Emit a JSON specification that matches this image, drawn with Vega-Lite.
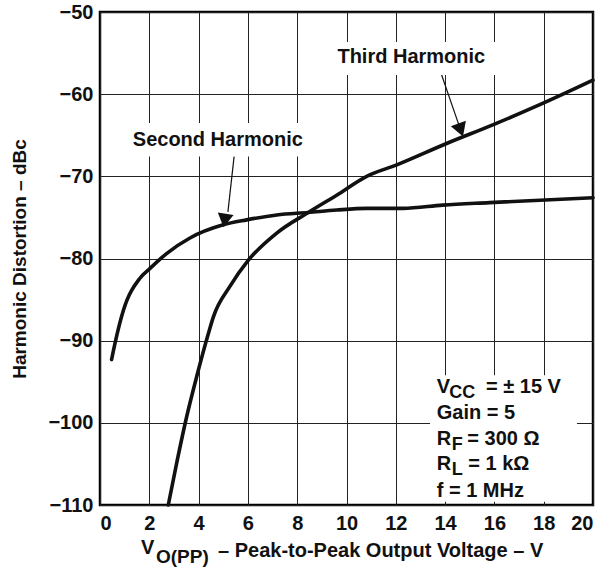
{
  "$schema": "https://vega.github.io/schema/vega-lite/v6.json",
  "width": 493,
  "height": 493,
  "autosize": {"type": "none"},
  "padding": {"left": 100, "top": 12, "right": 11, "bottom": 66},
  "background": "white",
  "config": {
    "view": {"stroke": "black", "strokeWidth": 2.5},
    "font": "Liberation Sans",
    "text": {"font": "Liberation Sans", "fontWeight": "bold", "color": "#111"},
    "axis": {
      "labelFont": "Liberation Sans", "labelFontWeight": "bold", "labelFontSize": 20, "labelColor": "#111",
      "titleFont": "Liberation Sans", "titleFontWeight": "bold", "titleFontSize": 19, "titleColor": "#111",
      "ticks": false, "domain": false, "grid": true, "gridColor": "#222", "gridWidth": 1, "gridOpacity": 1
    }
  },
  "datasets": {
    "curves": [
      {"s": "second", "x": 0.47, "y": -92.3},
      {"s": "second", "x": 0.61, "y": -90.3},
      {"s": "second", "x": 0.95, "y": -86.3},
      {"s": "second", "x": 1.62, "y": -82.4},
      {"s": "second", "x": 2.03, "y": -81.2},
      {"s": "second", "x": 2.7, "y": -79.4},
      {"s": "second", "x": 3.65, "y": -77.5},
      {"s": "second", "x": 5.0, "y": -75.9},
      {"s": "second", "x": 5.95, "y": -75.3},
      {"s": "second", "x": 7.17, "y": -74.7},
      {"s": "second", "x": 8.45, "y": -74.4},
      {"s": "second", "x": 9.6, "y": -74.1},
      {"s": "second", "x": 10.8, "y": -73.9},
      {"s": "second", "x": 12.3, "y": -73.9},
      {"s": "second", "x": 13.9, "y": -73.5},
      {"s": "second", "x": 15.8, "y": -73.2},
      {"s": "second", "x": 20.0, "y": -72.6},
      {"s": "third", "x": 2.77, "y": -110.0},
      {"s": "third", "x": 3.11, "y": -104.9},
      {"s": "third", "x": 3.52, "y": -99.2},
      {"s": "third", "x": 3.92, "y": -94.4},
      {"s": "third", "x": 4.4, "y": -89.1},
      {"s": "third", "x": 4.6, "y": -87.1},
      {"s": "third", "x": 5.27, "y": -83.4},
      {"s": "third", "x": 6.02, "y": -80.2},
      {"s": "third", "x": 7.17, "y": -76.9},
      {"s": "third", "x": 8.45, "y": -74.4},
      {"s": "third", "x": 9.6, "y": -72.3},
      {"s": "third", "x": 10.82, "y": -70.0},
      {"s": "third", "x": 12.04, "y": -68.6},
      {"s": "third", "x": 14.06, "y": -66.0},
      {"s": "third", "x": 15.96, "y": -63.7},
      {"s": "third", "x": 17.98, "y": -61.1},
      {"s": "third", "x": 20.0, "y": -58.3}
    ],
    "boxes": [
      {"x": 1.1, "x2": 8.4, "y": -63.5, "y2": -67.6},
      {"x": 9.45, "x2": 16.1, "y": -53.65, "y2": -57.66},
      {"x": 13.39, "x2": 19.35, "y": -94.2, "y2": -109.6}
    ],
    "centerText": [
      {"t": "Second Harmonic", "x": 4.78, "y": -66.3},
      {"t": "Third Harmonic", "x": 12.63, "y": -56.24}
    ],
    "mainText": [
      {"t": "V", "x": 13.66, "y": -96.39},
      {"t": "= ± 15 V", "x": 15.66, "y": -96.39},
      {"t": "Gain = 5", "x": 13.66, "y": -99.55},
      {"t": "R", "x": 13.66, "y": -102.68},
      {"t": "= 300 Ω", "x": 14.9, "y": -102.68},
      {"t": "R", "x": 13.66, "y": -105.8},
      {"t": "= 1 kΩ", "x": 14.94, "y": -105.8},
      {"t": "f = 1 MHz", "x": 13.66, "y": -108.97},
      {"t": "V", "x": 1.663, "y": -115.94},
      {"t": "– Peak-to-Peak Output Voltage – V", "x": 4.787, "y": -116.3}
    ],
    "subText": [
      {"t": "CC", "x": 14.17, "y": -96.95},
      {"t": "F", "x": 14.27, "y": -103.3},
      {"t": "L", "x": 14.27, "y": -106.4}
    ],
    "titleSub": [
      {"t": "O(PP)", "x": 2.27, "y": -117.03}
    ],
    "arrows": [
      {"x": 5.44, "y": -67.6, "x2": 5.19, "y2": -74.33},
      {"x": 13.86, "y": -57.66, "x2": 14.6, "y2": -64.1}
    ]
  },
  "layer": [
    {
      "data": {"name": "boxes"},
      "mark": {"type": "rect", "color": "white"},
      "encoding": {
        "x": {"field": "x", "type": "quantitative", "scale": {"domain": [0, 20], "nice": false, "zero": false},
              "axis": {"values": [0, 2, 4, 6, 8, 10, 12, 14, 16, 18, 20], "title": null, "labelPadding": 8}},
        "x2": {"field": "x2"},
        "y": {"field": "y", "type": "quantitative", "scale": {"domain": [-110, -50], "nice": false, "zero": false},
              "axis": {"values": [-110, -100, -90, -80, -70, -60, -50], "title": "Harmonic Distortion – dBc", "labelPadding": 7, "titlePadding": 18}},
        "y2": {"field": "y2"}
      }
    },
    {
      "data": {"name": "centerText"},
      "mark": {"type": "text", "fontSize": 20, "align": "center", "baseline": "alphabetic"},
      "encoding": {
        "x": {"field": "x", "type": "quantitative"},
        "y": {"field": "y", "type": "quantitative"},
        "text": {"field": "t"}
      }
    },
    {
      "data": {"name": "mainText"},
      "mark": {"type": "text", "fontSize": 20, "align": "left", "baseline": "alphabetic"},
      "encoding": {
        "x": {"field": "x", "type": "quantitative"},
        "y": {"field": "y", "type": "quantitative"},
        "text": {"field": "t"}
      }
    },
    {
      "data": {"name": "subText"},
      "mark": {"type": "text", "fontSize": 18, "align": "left", "baseline": "alphabetic"},
      "encoding": {
        "x": {"field": "x", "type": "quantitative"},
        "y": {"field": "y", "type": "quantitative"},
        "text": {"field": "t"}
      }
    },
    {
      "data": {"name": "titleSub"},
      "mark": {"type": "text", "fontSize": 19, "align": "left", "baseline": "alphabetic"},
      "encoding": {
        "x": {"field": "x", "type": "quantitative"},
        "y": {"field": "y", "type": "quantitative"},
        "text": {"field": "t"}
      }
    },
    {
      "data": {"name": "arrows"},
      "mark": {"type": "rule", "color": "#111", "strokeWidth": 1.2},
      "encoding": {
        "x": {"field": "x", "type": "quantitative"},
        "y": {"field": "y", "type": "quantitative"},
        "x2": {"field": "x2"},
        "y2": {"field": "y2"}
      }
    },
    {
      "data": {"values": [{"x": 5.07, "y": -75.1}]},
      "mark": {"type": "point", "shape": "triangle", "filled": true, "color": "#111", "opacity": 1, "size": 256, "angle": 188.9},
      "encoding": {
        "x": {"field": "x", "type": "quantitative"},
        "y": {"field": "y", "type": "quantitative"}
      }
    },
    {
      "data": {"values": [{"x": 14.6, "y": -64.1}]},
      "mark": {"type": "point", "shape": "triangle", "filled": true, "color": "#111", "opacity": 1, "size": 256, "angle": 160.2},
      "encoding": {
        "x": {"field": "x", "type": "quantitative"},
        "y": {"field": "y", "type": "quantitative"}
      }
    },
    {
      "data": {"name": "curves"},
      "mark": {"type": "line", "color": "#111", "strokeWidth": 3.6, "interpolate": "monotone", "strokeCap": "round"},
      "encoding": {
        "x": {"field": "x", "type": "quantitative"},
        "y": {"field": "y", "type": "quantitative"},
        "detail": {"field": "s"}
      }
    }
  ]
}
